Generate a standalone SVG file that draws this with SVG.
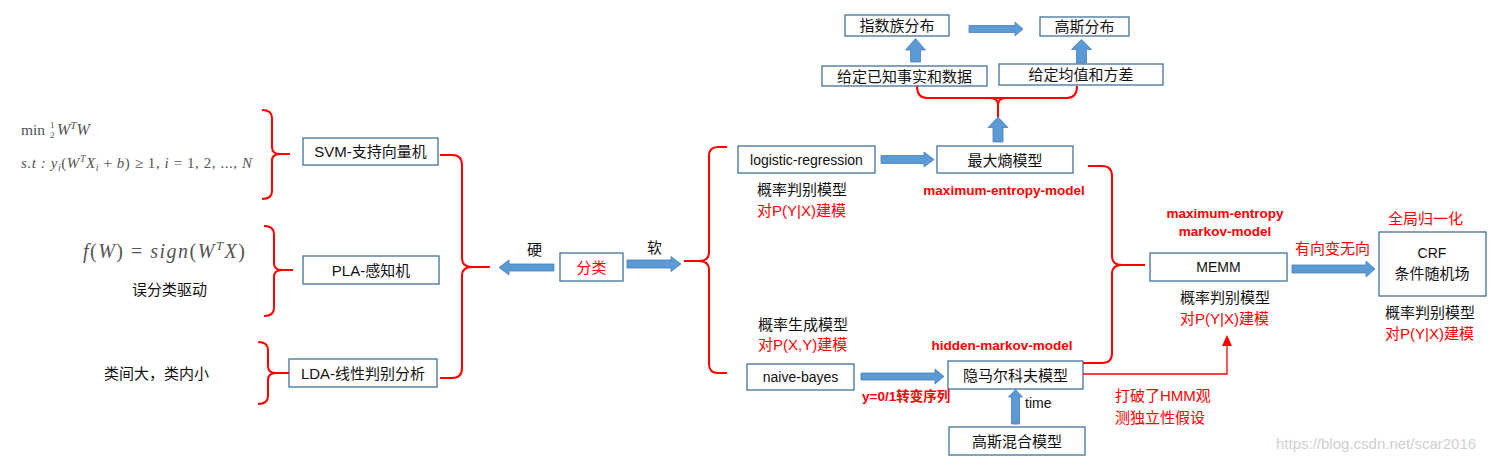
<svg xmlns="http://www.w3.org/2000/svg" width="1495" height="461" viewBox="0 0 1495 461">
<style>
.box{fill:#fff;stroke:#41719C;stroke-width:1.3}
.t{font-family:"Liberation Sans","Noto Sans CJK SC",sans-serif;font-size:15px;fill:#111;dominant-baseline:central}
.c{text-anchor:middle}
.lat{font-size:14px}
.red{fill:#FF0000}
.rb{fill:#FF0000;font-weight:bold;font-size:13.5px}
.br{fill:none;stroke:#FF0000;stroke-width:2}
.arr{fill:#5B9BD5;stroke:#4A7EBB;stroke-width:0.8}
.math{font-family:"Liberation Serif","DejaVu Serif",serif;font-style:italic;fill:#555}
.up{font-style:normal}
</style>
<rect width="1495" height="461" fill="#fff"/>

<g id="math">
<text class="math" x="21" y="135" font-size="15.5"><tspan class="up">min</tspan></text>
<text class="math up" x="50" y="128" font-size="9">1</text>
<text class="math up" x="50" y="138" font-size="9">2</text>
<text class="math" x="57" y="135" font-size="16">W<tspan dy="-6" font-size="11">T</tspan><tspan dy="6">W</tspan></text>
<text class="math" x="21" y="168" font-size="15" textLength="231" lengthAdjust="spacing">s.t : y<tspan dy="3" font-size="10">i</tspan><tspan dy="-3" class="up">(</tspan>W<tspan dy="-6" font-size="10">T</tspan><tspan dy="6">X</tspan><tspan dy="3" font-size="10">i</tspan><tspan dy="-3" class="up"> + </tspan>b<tspan class="up">) ≥ 1, </tspan>i<tspan class="up"> = 1, 2, ..., </tspan>N</text>
<text class="math" x="83" y="258" font-size="20" textLength="162" lengthAdjust="spacing">f<tspan class="up">(</tspan>W<tspan class="up">) = </tspan>sign<tspan class="up">(</tspan>W<tspan dy="-8" font-size="13">T</tspan><tspan dy="8">X</tspan><tspan class="up">)</tspan></text>
<text class="t" x="132" y="289">误分类驱动</text>
<text class="t" x="104" y="373">类间大，类内小</text>
</g>

<g id="svm"><rect class="box" x="303" y="138" width="135" height="27"/><text class="t c" x="370.5" y="151.5">SVM-支持向量机</text></g>
<g id="pla"><rect class="box" x="303" y="256" width="136" height="28"/><text class="t c" x="371" y="270">PLA-感知机</text></g>
<g id="lda"><rect class="box" x="289" y="359" width="148" height="28"/><text class="t c" x="363" y="373">LDA-线性判别分析</text></g>
<g id="fenlei"><rect class="box" x="560" y="253" width="63" height="28"/><text class="t c red" x="591.5" y="267" font-size="19">分类</text></g>
<g id="logistic"><rect class="box" x="738" y="146" width="137" height="27"/><text class="t c lat" x="806.5" y="160">logistic-regression</text></g>
<g id="maxent"><rect class="box" x="937" y="146" width="136" height="27"/><text class="t c" x="1005" y="160">最大熵模型</text></g>
<g id="expfam"><rect class="box" x="845" y="15" width="104" height="21"/><text class="t c" x="897" y="25.5">指数族分布</text></g>
<g id="gauss"><rect class="box" x="1040" y="17" width="89" height="19"/><text class="t c" x="1084.5" y="26.5">高斯分布</text></g>
<g id="given1"><rect class="box" x="822" y="66" width="165" height="20"/><text class="t c" x="904.5" y="76" font-size="16">给定已知事实和数据</text></g>
<g id="given2"><rect class="box" x="999" y="64" width="164" height="21"/><text class="t c" x="1081" y="74.5">给定均值和方差</text></g>
<g id="naive"><rect class="box" x="747" y="364" width="107" height="26"/><text class="t c lat" x="800.5" y="377">naive-bayes</text></g>
<g id="hmm"><rect class="box" x="948" y="361" width="135" height="28"/><text class="t c" x="1015.5" y="375">隐马尔科夫模型</text></g>
<g id="gmm"><rect class="box" x="949" y="427" width="136" height="28"/><text class="t c" x="1017" y="441">高斯混合模型</text></g>
<g id="memm"><rect class="box" x="1150" y="253" width="137" height="28"/><text class="t c lat" x="1218.5" y="267" font-size="15">MEMM</text></g>
<g id="crf"><rect class="box" x="1379" y="232" width="107" height="64"/><text class="t c lat" x="1432" y="253">CRF</text><text class="t c" x="1432" y="273">条件随机场</text></g>

<g id="labels">
<text class="t" x="527" y="249">硬</text>
<text class="t" x="647" y="247.5">软</text>
<text class="t" x="757" y="189">概率判别模型</text>
<text class="t red" x="757" y="210">对P(Y|X)建模</text>
<text class="t rb c" x="1004" y="190">maximum-entropy-model</text>
<text class="t" x="758" y="324">概率生成模型</text>
<text class="t red" x="758" y="344">对P(X,Y)建模</text>
<text class="t rb c" x="1002" y="345">hidden-markov-model</text>
<text class="t rb" x="862" y="396" font-size="12">y=0/1转变序列</text>
<text class="t lat" x="1025" y="403">time</text>
<text class="t rb c" x="1225" y="213">maximum-entropy</text>
<text class="t rb c" x="1225" y="231.5">markov-model</text>
<text class="t" x="1180" y="297">概率判别模型</text>
<text class="t red" x="1180" y="318">对P(Y|X)建模</text>
<text class="t red" x="1295" y="248" font-size="14.5">有向变无向</text>
<text class="t red" x="1388" y="218" font-size="14.5">全局归一化</text>
<text class="t" x="1385" y="312">概率判别模型</text>
<text class="t red" x="1385" y="333">对P(Y|X)建模</text>
<text class="t red" x="1115" y="395" font-size="14">打破了HMM观</text>
<text class="t red" x="1115" y="417" font-size="14.5">测独立性假设</text>
<text class="t" x="1276" y="443" font-size="15.7" style="fill:#cfcfcf">https://blog.csdn.net/scar2016</text>
</g>

<g id="connectors">
<path class="br" d="M262,110 Q272,110 272,118 L272,147 Q272,154 280,154 L290,154 M280,154 Q272,154 272,161 L272,191 Q272,199 262,199"/>
<path class="br" d="M264,226 Q274,226 274,234 L274,263 Q274,270 282,270 L293,270 M282,270 Q274,270 274,277 L274,308 Q274,316 264,316"/>
<path class="br" d="M258,342 Q268,342 268,350 L268,366 Q268,373 276,373 L289,373 M276,373 Q268,373 268,380 L268,396 Q268,404 258,404"/>
<path class="br" d="M440,155 L452,155 Q462,155 462,165 L462,258 Q462,267 472,267 L490,267 M472,267 Q462,267 462,276 L462,368 Q462,378 452,378 L440,378"/>
<path class="br" d="M727,147 L718,147 Q709,147 709,156 L709,252 Q709,261 699,261 L684,261 M699,261 Q709,261 709,270 L709,364 Q709,373 718,373 L727,373"/>
<path class="br" d="M1088,166 L1102,166 Q1112,166 1112,176 L1112,256 Q1112,265 1122,265 L1145,265 M1122,265 Q1112,265 1112,274 L1112,353 Q1112,363 1102,363 L1083,363"/>
<path class="br" d="M917,86 Q917,98 927,98 L1067,98 Q1077,98 1077,86 M990,98 Q998,98 998,105 L998,117 M1006,98 Q998,98 998,105"/>
<path d="M1083,374 L1227,374 L1227,345" fill="none" stroke="#FF0000" stroke-width="1.3"/>
<polygon points="1227,335 1222,346 1232,346" fill="#FF0000"/>

<polygon class="arr" points="554,264 509,264 509,260 499,267.5 509,275 509,271 554,271"/>
<polygon class="arr" points="627,260 671,260 671,256.5 681,264 671,271.5 671,268 627,268"/>
<polygon class="arr" points="881,155.5 924,155.5 924,152 934,159.5 924,167 924,163.5 881,163.5"/>
<polygon class="arr" points="969,25.5 1015,25.5 1015,22 1023,29 1015,36 1015,32.5 969,32.5"/>
<polygon class="arr" points="1292,265 1366,265 1366,261 1375,269 1366,277 1366,273 1292,273"/>
<polygon class="arr" points="861,373 935,373 935,369 944,376.5 935,384 935,380 861,380"/>
<polygon class="arr" points="910.5,62 910.5,50 905.5,50 915.5,38.5 925.5,50 920.5,50 920.5,62"/>
<polygon class="arr" points="1076.5,63 1076.5,49.5 1071.5,49.5 1081.5,39.5 1091.5,49.5 1086.5,49.5 1086.5,63"/>
<polygon class="arr" points="993,142 993,127.5 988,127.5 998,117 1008,127.5 1003,127.5 1003,142"/>
<polygon class="arr" points="1011.5,424 1011.5,397 1008.5,397 1015.5,389.5 1022.5,397 1019.5,397 1019.5,424"/>
</g>
</svg>
